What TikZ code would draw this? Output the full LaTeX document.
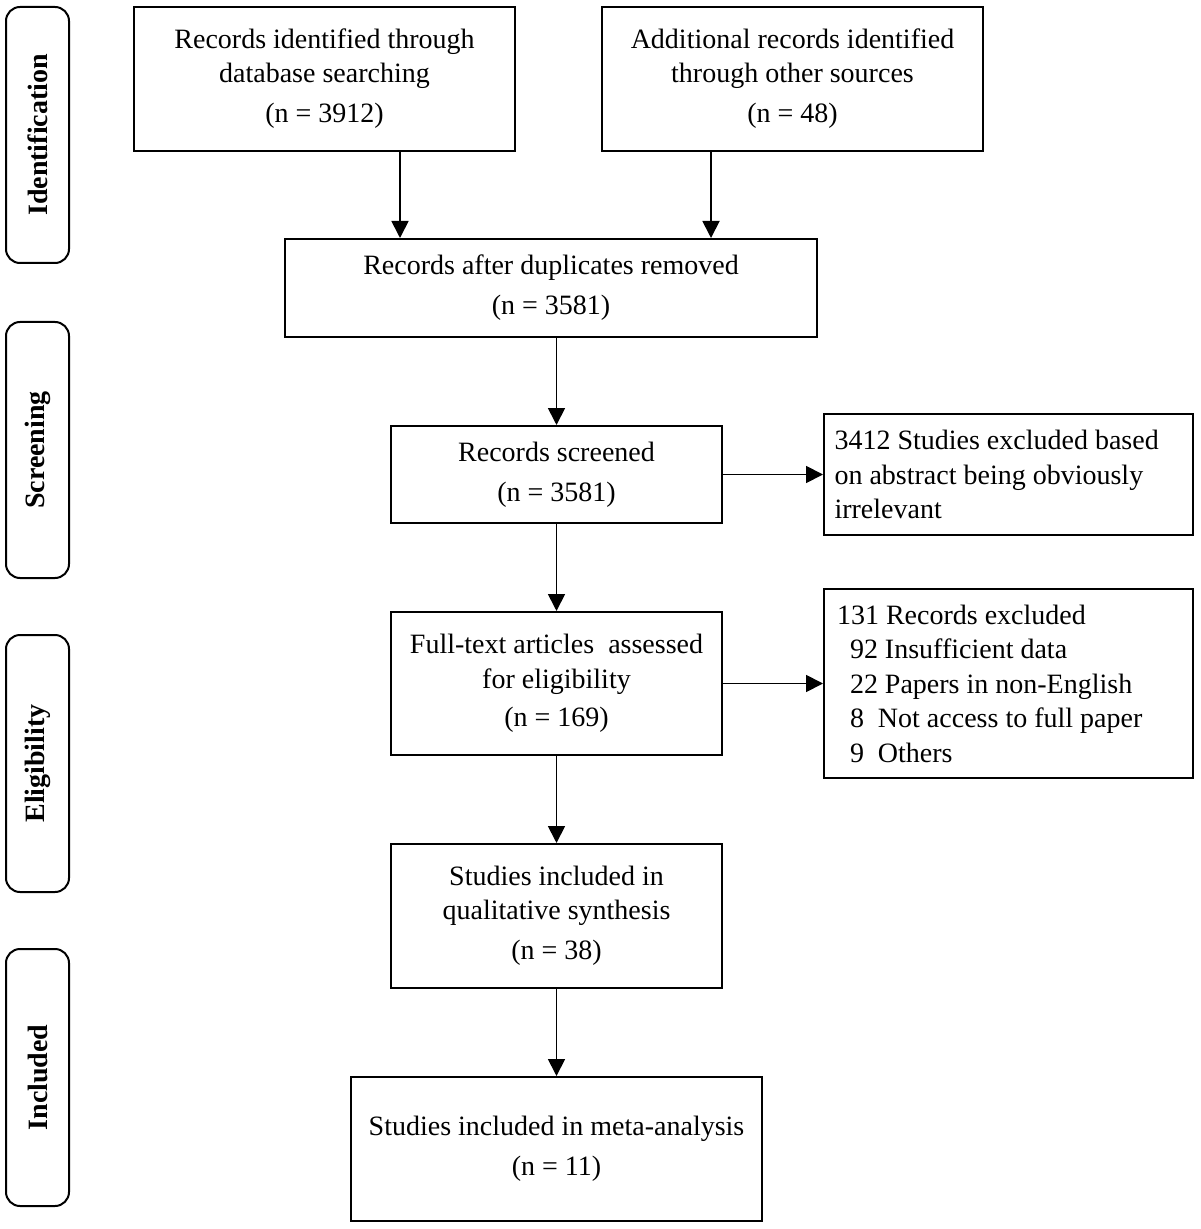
\documentclass[tikz,border=0pt]{standalone}
\usepackage{fontspec}
\setmainfont{Liberation Serif}
\usetikzlibrary{arrows.meta}
\begin{document}
\begin{tikzpicture}[x=0.5pt,y=-0.5pt,
  box/.style={draw,line width=1pt,rectangle,inner sep=0pt,align=center,
    font=\fontsize{14pt}{17pt}\selectfont},
  lbox/.style={draw,line width=1pt,rectangle,inner sep=0pt,align=flush left,
    font=\fontsize{14pt}{17.25pt}\selectfont},
  phase/.style={draw,line width=1pt,rounded corners=7pt,rectangle,inner sep=0pt,
    minimum width=31.5pt,minimum height=128pt},
  phtext/.style={rotate=90,font=\fontsize{14pt}{17pt}\selectfont\bfseries},
  arr/.style={line width=0.9pt,-{Triangle[length=8.5pt,width=8.5pt]}}]
\useasboundingbox (0,0) rectangle (1200,1229);
% phase boxes
\node[phase] (p1) at (37.5,135) {};
\node[phtext] (t1) at (p1.center) {Identification};
\node[phase] (p2) at (37.5,450) {};
\node[phtext] (t2) at (p2.center) {Screening};
\node[phase,minimum height=128.5pt] (p3) at (37.5,763.5) {};
\node[phtext] (t3) at (p3.center) {Eligibility};
\node[phase,minimum height=128.5pt] (p4) at (37.5,1077.5) {};
\node[phtext] (t4) at (p4.center) {Included};
% main boxes
\node[box,minimum width=190.5pt,minimum height=72pt] (A) at (324.5,79)
  {Records identified through\\database searching\\[3pt](n = 3912)};
\node[box,minimum width=190.5pt,minimum height=72pt] (B) at (792.5,79)
  {Additional records identified\\through other sources\\[3pt](n = 48)};
\node[box,minimum width=266pt,minimum height=49pt] (C) at (551,288)
  {Records after duplicates removed\\[3pt](n = 3581)};
\node[box,minimum width=165.5pt,minimum height=48.5pt] (D) at (556.5,474.5)
  {Records screened\\[3pt](n = 3581)};
\node[lbox,minimum width=184.5pt,minimum height=60.5pt,text width=174pt] (E) at (1008.5,474.5)
  {3412 Studies excluded based\\on abstract being obviously\\irrelevant};
\node[box,minimum width=165.5pt,minimum height=71.5pt] (F) at (556.5,683.5)
  {Full-text articles\ \ assessed\\[0.5pt]for eligibility\\[2pt](n = 169)};
\node[lbox,minimum width=184.5pt,minimum height=94.5pt,text width=171.5pt] (G) at (1008.5,683.5)
  {131 Records excluded\\
   \hspace*{6.5pt}92 Insufficient data\\
   \hspace*{6.5pt}22 Papers in non-English\\
   \hspace*{6.5pt}8\hspace{7pt}Not access to full paper\\
   \hspace*{6.5pt}9\hspace{7pt}Others};
\node[box,minimum width=165.5pt,minimum height=72pt] (H) at (556.5,916)
  {Studies included in\\qualitative synthesis\\[3pt](n = 38)};
\node[box,minimum width=205.5pt,minimum height=72pt] (I) at (556.5,1149)
  {Studies included in meta-analysis\\[3pt](n = 11)};
% arrows
\draw[arr] ([xshift=37.75pt]A.south) -- ([xshift=37.75pt]A.south |- C.north);
\draw[arr] ([xshift=-40.75pt]B.south) -- ([xshift=-40.75pt]B.south |- C.north);
\draw[arr] (C.south -| D.north) -- (D.north);
\draw[arr] (D.east) -- (D.east -| E.west);
\draw[arr] (D.south) -- (F.north);
\draw[arr] (F.east) -- (F.east -| G.west);
\draw[arr] (F.south) -- (H.north);
\draw[arr] (H.south) -- (I.north);
\end{tikzpicture}
\end{document}
